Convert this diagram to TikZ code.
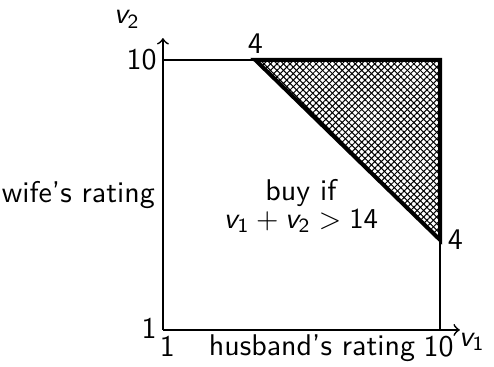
\documentclass[tikz,border=0pt]{standalone}
\usetikzlibrary{patterns.meta, positioning}
\newcommand{\sv}[1]{\ensuremath{\textsl{v}_{\mathsf{#1}}}}

\begin{document}
\sffamily
\begin{tikzpicture}[x=0.3758cm, y=0.366cm]
    % Define the styles
    \tikzset{
        every node/.style={font=\fontsize{10.4}{12.5}\selectfont\sffamily},
        axis/.style={semithick, ->},
        edge/.style={semithick},
        region/.style={line width=1.4pt, line join=miter},
        hatch/.style={pattern={Lines[angle=45, distance=1.6pt, line width=0.35pt]}},
        hatchb/.style={pattern={Lines[angle=-45, distance=1.6pt, line width=0.35pt]}},
        lbl/.style={inner sep=1pt}
    }
    \useasboundingbox (-4.29,-0.233) rectangle (11.75,12.0);

    % Corners and axis ends
    \coordinate (o) at (1,1);
    \coordinate (xend) at (10.64,1);
    \coordinate (yend) at (1,10.73);
    \coordinate (tl) at (1,10);
    \coordinate (tr) at (10,10);
    \coordinate (br) at (10,1);
    \coordinate (p4) at (4,10);
    \coordinate (q4) at (10,4);

    % Axes and the square of ratings
    \draw[axis] (o) -- (xend);
    \draw[axis] (o) -- (yend);
    \draw[edge] (tl) -- (tr) -- (br);

    % The buying region
    \fill[hatch] (p4) -- (tr) -- (q4) -- cycle;
    \fill[hatchb] (p4) -- (tr) -- (q4) -- cycle;
    \draw[region] (p4) -- (tr) -- (q4) -- cycle;

    % Tick labels
    \node[lbl, left=1pt of tl] (y10) {10};
    \node[lbl, anchor=east] (y1) at ([xshift=-1pt, yshift=0.5pt]o) {1};
    \node[lbl, anchor=north] (x1) at ([xshift=1.5pt, yshift=-1pt]o) {1};
    \node[lbl, anchor=north] (x10) at ([xshift=-0.5pt, yshift=-1pt]br) {10};
    \node[lbl, above=1pt of p4] (t4) {4};
    \node[lbl, right=1.5pt of q4] (r4) {4};

    % Axis names
    \node[lbl] (v2) at (-0.17,11.35) {\sv{2}};
    \node[lbl] (v1) at (11.03,0.6) {\sv{1}};
    \node[lbl] (hus) at (5.84,0.4) {husband's rating};
    \node[lbl, anchor=east] (wife) at (0.85,5.5) {wife's rating};

    % Condition
    \node[lbl, align=center, font=\fontsize{10.4}{9.6}\selectfont\sffamily] (buy) at (5.48,5.13) {buy if\\$\sv{1}+\sv{2}>\mathsf{14}$};
\end{tikzpicture}
\end{document}
